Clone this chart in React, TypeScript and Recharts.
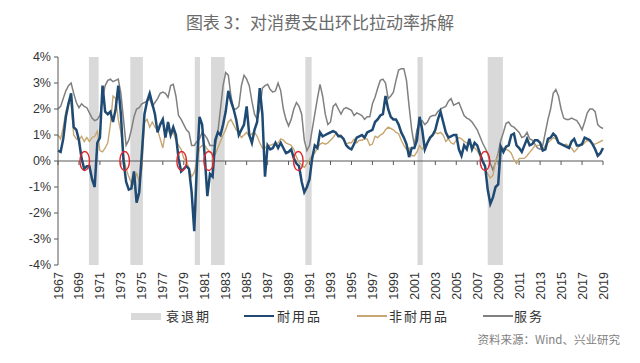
import React from "react";
import {
  ComposedChart,
  Line,
  XAxis,
  YAxis,
  ReferenceArea,
  ReferenceLine,
  ReferenceDot
} from "recharts";

// quarterly, 1967Q1 .. 2019Q1
const startYear = 1967;

const durable = [
  0.4, 0.35, 0.85, 1.7, 2.2, 2.6, 1.3, 1.2, 0.8, 0.1, -0.3, -0.2, -0.2, -0.7, -1.0, 0.7,
  0.9, 2.9, 1.9, 1.8, 1.9, 1.5, 2.0, 2.9, 1.8, 0.0, -0.8, -1.1, -1.05, -0.4, -1.6, -1.2,
  0.3, 1.8, 2.3, 2.6, 2.2, 1.8, 1.1, 1.4, 1.6, 0.9, 1.5, 1.0, 1.3, 1.0, 0.1, -0.4,
  -0.3, -0.2, -0.3, -1.2, -2.7, -0.2, 1.7, 1.4, 0.2, -1.35, -0.5, -0.6, 0.8, 1.1, 1.0, 1.4,
  1.9, 2.7, 2.3, 2.0, 1.6, 1.0, 1.2, 1.4, 2.1, 1.0, 0.7, 1.2, 1.5, 2.8, 1.8, -0.6,
  0.6, 0.45, 0.5, 0.7, 0.5, 0.7, 0.5, 0.3, 0.35, 0.45, 0.1, -0.1, -0.2, -0.8, -1.2, -1.0,
  -0.7, 0.1, 0.6, 0.5, 1.1, 0.95, 1.0, 1.05, 1.1, 1.15, 1.1, 0.95, 0.95, 0.85, 0.6, 0.5,
  0.45, 0.65, 0.9, 0.95, 1.0, 0.9, 1.1, 1.15, 1.2, 1.5, 1.6, 1.75, 1.8, 2.5, 2.0, 1.7,
  1.6, 1.6, 1.4, 1.1, 0.9, 0.65, 0.15, 0.5, 0.5, 0.8, 1.7, 1.2, 0.45, 0.7, 0.9, 1.0,
  1.2, 1.6, 1.9, 1.5, 1.1, 0.9, 0.95, 1.0, 1.0, 0.45, 0.2, 0.6, 0.45, 0.85, 0.45, 0.7,
  0.6, 0.3, 0.0, -0.2, -1.1, -1.65, -1.4, -1.0, -0.9, 0.55, 0.35, 0.55, 0.6, 1.0, 1.05, 0.6,
  0.5, 0.35, 0.6, 0.85, 0.6, 0.65, 0.8, 0.8, 0.7, 0.4, 0.45, 0.85, 0.9, 1.05, 0.95, 0.7,
  0.65, 0.6, 0.55, 0.5, 0.75, 0.85, 0.6, 0.6, 0.65, 0.9, 0.85, 0.8, 0.65, 0.45, 0.2, 0.3,
  0.5
];

const nondurable = [
  1.0, 0.85, 1.3, 1.9, 2.25, 2.2, 1.0, 0.85, 0.8, 0.95, 0.75, 0.9, 0.75, 0.9, 0.95, 1.15,
  0.4, 0.35, 0.5, 0.7, 1.4, 2.5, 2.4, 1.6, 1.1, 0.2, -0.3, -0.6, -0.85, -0.9, -0.45, -0.8,
  -0.3, 1.5, 1.6, 1.3, 1.5, 1.3, 1.2, 0.85, 0.5, 1.1, 1.2, 1.0, 1.1, 0.8, 0.6, 0.45,
  0.1, 0.0, -0.3, -0.6, -0.45, 0.0, 0.5, 0.6, 0.6, 0.45, 0.35, 0.3, 0.25, 0.5, 0.75, 1.0,
  1.2, 1.5, 1.6, 1.4, 1.2, 1.1, 0.9, 1.0, 1.1, 0.95, 1.05, 1.1, 0.95, 0.7, 0.5, 0.5,
  0.6, 0.6, 0.65, 0.65, 0.7, 0.85, 0.8, 0.7, 0.65, 0.6, 0.45, 0.15, -0.05, -0.15, -0.25, -0.1,
  0.05, 0.2, 0.3, 0.5, 0.65, 0.7, 0.65, 0.7, 0.8, 0.9, 1.05, 1.0, 1.0, 0.8, 0.65, 0.7,
  0.7, 0.85, 0.7, 0.8, 0.8, 0.85, 0.85, 0.6, 0.65, 0.95, 0.9, 1.0, 1.05, 1.2, 1.3, 1.25,
  1.2, 1.1, 1.05, 0.8, 0.6, 0.45, 0.5, 0.2, 0.2, 0.35, 0.6, 0.45, 0.6, 0.7, 0.85, 1.0,
  1.1, 1.05, 1.1, 1.0, 0.75, 0.85, 0.7, 0.65, 0.8, 0.9, 0.85, 0.75, 0.7, 0.65, 0.6, 0.5,
  0.4, 0.2, 0.0, -0.25, -0.5, -0.65, -0.55, 0.0, 0.2, 0.45, 0.5, 0.45, 0.4, 0.3, 0.05, -0.1,
  0.1, 0.1, 0.1, 0.2, 0.33, 0.45, 0.6, 0.6, 0.6, 0.45, 0.6, 0.7, 0.8, 0.9, 0.85, 0.7,
  0.65, 0.6, 0.65, 0.55, 0.5, 0.35, 0.45, 0.6, 0.6, 0.7, 0.8, 0.75, 0.65, 0.65, 0.7, 0.75,
  0.8
];

const services = [
  2.0, 2.1, 2.4, 2.7, 2.9, 3.0, 2.6, 2.25, 2.05, 2.2, 2.1, 2.05, 1.85, 1.65, 1.55, 1.6,
  1.75, 2.4, 2.9, 3.1, 3.15, 3.05, 3.1, 3.15, 2.6, 1.6, 0.6, 0.8, 1.2, 1.7, 2.0, 2.05,
  2.2, 2.25, 2.3, 2.4, 2.1, 2.25, 2.4, 2.6, 2.65, 2.6, 2.45, 2.9, 2.95, 2.5, 1.75, 1.6,
  1.4, 1.2, 1.1, 0.6, 0.6, 0.75, 0.85, 1.1, 1.0, 0.85, 0.6, 0.6, 0.6, 1.1, 2.0, 2.9,
  3.4, 3.3, 2.5, 2.0, 2.0, 2.1, 2.9, 3.3, 3.15, 2.9, 2.3, 1.8, 1.6, 2.0, 2.8, 2.9,
  2.95, 2.75, 2.65, 2.7, 3.0, 2.7, 2.0, 1.6, 1.35, 1.6, 2.0, 2.25, 2.1, 1.8, 0.8, 0.4,
  0.6, 1.2, 1.8, 2.4, 2.95, 2.5, 1.8, 1.4, 1.5, 2.1, 2.2, 2.0, 1.8, 2.0, 2.05, 2.0,
  1.95, 1.75, 1.85, 1.8, 1.75, 1.6, 1.7, 1.7, 2.2, 2.45, 2.8, 3.1, 3.15, 3.0, 2.4, 2.5,
  2.65, 3.1, 3.5, 3.55, 3.55, 3.1, 2.1, 1.2, 0.6, 1.2, 1.5, 1.55, 1.4, 1.5, 1.7, 1.75,
  1.75, 1.9, 2.0, 2.05, 2.1, 2.3, 2.4, 2.15, 2.2, 2.25, 2.0, 1.75, 1.65, 1.6, 1.5, 1.35,
  1.2, 0.95, 0.7, 0.5, 0.3, -0.1, -0.35, -0.05, 0.3, 0.8, 1.1, 1.45, 1.5, 1.35, 1.3, 1.2,
  1.1, 0.9, 0.95, 1.1, 0.85, 0.8, 0.65, 0.5, 0.45, 0.6, 1.1, 1.6, 2.0, 2.6, 2.75, 2.5,
  2.0, 1.65, 1.6, 1.6, 1.65, 1.6, 1.55, 1.4, 1.2, 1.5, 1.85, 2.0, 2.0, 1.9, 1.4, 1.3,
  1.25
];

const recessionStart = [1969.95, 1973.9, 1980.05, 1981.6, 1990.6, 2001.3, 2008.0];
const recessionEnd = [1970.88, 1975.1, 1980.55, 1982.9, 1991.2, 2001.8, 2009.45];

// red ellipses marking the zero crossings before each recession
const markerYears = [1969.55, 1973.36, 1978.8, 1981.38, 1989.93, 2007.74];

const xTicks = [
  1967, 1969, 1971, 1973, 1975, 1977, 1979, 1981, 1983, 1985, 1987, 1989, 1991, 1993,
  1995, 1997, 1999, 2001, 2003, 2005, 2007, 2009, 2011, 2013, 2015, 2017, 2019
];
const yTicks = [-4, -3, -2, -1, 0, 1, 2, 3, 4];

const chartData = durable.map((value, i) => ({
  time: startYear + i / 4,
  durable: value,
  nondurable: nondurable[i],
  services: services[i]
}));

const COLORS = {
  durable: "#1f4a73",
  nondurable: "#c6a772",
  services: "#808080",
  recession: "#d9d9d9",
  axis: "#595959",
  marker: "#e0262b"
};

const latin = "'Liberation Sans', Arial, sans-serif";
const cjk = "'Noto Sans CJK SC', sans-serif";

function YearTick(props: any) {
  const { x, y, payload } = props;
  return (
    <text
      x={x}
      y={y - 1}
      transform={`rotate(-90 ${x} ${y - 1})`}
      textAnchor="end"
      dy="0.36em"
      fontSize={12.5}
      fontFamily={latin}
      fill="#333"
    >
      {payload.value}
    </text>
  );
}

function ZeroTick(props: any) {
  const { cx, cy } = props;
  return <line x1={cx} y1={cy} x2={cx} y2={cy + 4} stroke={COLORS.axis} strokeWidth={1} />;
}

function Marker(props: any) {
  const { cx, cy } = props;
  return (
    <ellipse cx={cx} cy={cy} rx={4.8} ry={9.5} fill="none" stroke={COLORS.marker} strokeWidth={1.4} />
  );
}

function LegendRow() {
  const text: React.CSSProperties = {
    position: "absolute",
    top: 307,
    fontFamily: cjk,
    fontSize: 13,
    letterSpacing: 2,
    color: "#333",
    lineHeight: "18px"
  };
  const swatch = (left: number, color: string, h: number): React.CSSProperties => ({
    position: "absolute",
    left,
    top: 316 - h / 2,
    width: 30,
    height: h,
    background: color
  });
  return (
    <>
      <div style={swatch(131, COLORS.recession, 7)} />
      <div style={{ ...text, left: 166 }}>衰退期</div>
      <div style={swatch(244, COLORS.durable, 2.5)} />
      <div style={{ ...text, left: 277 }}>耐用品</div>
      <div style={swatch(357, COLORS.nondurable, 1.5)} />
      <div style={{ ...text, left: 389 }}>非耐用品</div>
      <div style={swatch(483, COLORS.services, 1.5)} />
      <div style={{ ...text, left: 514 }}>服务</div>
    </>
  );
}

export default function App() {
  return (
    <div
      style={{
        position: "absolute",
        left: 0,
        top: 0,
        width: 640,
        height: 363,
        background: "#fff",
        overflow: "hidden"
      }}
    >
      <div
        style={{
          position: "absolute",
          left: 0,
          top: 10,
          width: 640,
          textAlign: "center",
          fontFamily: cjk,
          fontSize: 17,
          color: "#6b6b6b",
          lineHeight: "24px"
        }}
      >
        图表 3：对消费支出环比拉动率拆解
      </div>

      <div style={{ position: "absolute", left: 0, top: 0 }}>
        <ComposedChart
          width={640}
          height={363}
          data={chartData}
          margin={{ top: 57, right: 37, bottom: 58, left: 0 }}
        >
          <XAxis
            dataKey="time"
            type="number"
            domain={[1967, 2019]}
            ticks={xTicks}
            interval={0}
            axisLine={false}
            tickLine={false}
            height={40}
            tick={<YearTick />}
          />
          <YAxis
            type="number"
            domain={[-4, 4]}
            ticks={yTicks}
            interval={0}
            width={58}
            tickSize={4}
            tickMargin={3}
            axisLine={{ stroke: COLORS.axis }}
            tickLine={{ stroke: COLORS.axis }}
            tick={{ fontSize: 12.5, fontFamily: latin, fill: "#333" }}
            tickFormatter={(v: number) => `${v}%`}
          />
          {recessionStart.map((start, i) => (
            <ReferenceArea
              key={`rec-${i}`}
              x1={start}
              x2={recessionEnd[i]}
              y1={-4}
              y2={4}
              fill={COLORS.recession}
              fillOpacity={1}
              stroke="none"
            />
          ))}
          <ReferenceLine y={0} stroke={COLORS.axis} strokeWidth={1} />
          {xTicks.map((t) => (
            <ReferenceDot key={`zt-${t}`} x={t} y={0} r={1} shape={<ZeroTick />} />
          ))}
          <Line
            type="linear"
            dataKey="services"
            stroke={COLORS.services}
            strokeWidth={1.5}
            dot={false}
            isAnimationActive={false}
          />
          <Line
            type="linear"
            dataKey="nondurable"
            stroke={COLORS.nondurable}
            strokeWidth={1.4}
            dot={false}
            isAnimationActive={false}
          />
          <Line
            type="linear"
            dataKey="durable"
            stroke={COLORS.durable}
            strokeWidth={2.5}
            dot={false}
            isAnimationActive={false}
          />
          {markerYears.map((t) => (
            <ReferenceDot key={`mk-${t}`} x={t} y={0} r={5} shape={<Marker />} />
          ))}
        </ComposedChart>
      </div>

      <LegendRow />

      <div
        style={{
          position: "absolute",
          right: 20,
          top: 331,
          fontFamily: cjk,
          fontSize: 11.5,
          color: "#7f7f7f",
          lineHeight: "16px"
        }}
      >
        资料来源：Wind、兴业研究
      </div>
    </div>
  );
}
